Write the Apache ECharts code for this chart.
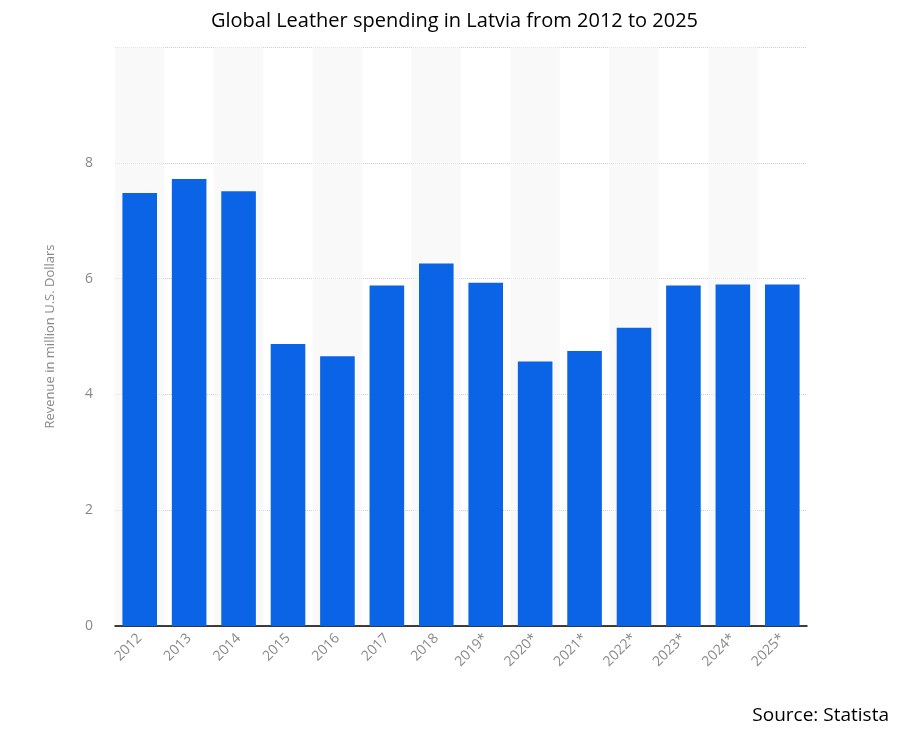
<!DOCTYPE html>
<html><head><meta charset="utf-8">
<script src="https://cdn.jsdelivr.net/npm/echarts@6/dist/echarts.min.js"></script>
<style>html,body{margin:0;padding:0;background:#fff}#c{width:909px;height:739px}</style>
</head><body><div id="c"></div>
<script>
const categories = ['2012','2013','2014','2015','2016','2017','2018','2019*','2020*','2021*','2022*','2023*','2024*','2025*'];
const revenue = [7.48,7.72,7.51,4.87,4.66,5.88,6.26,5.93,4.57,4.75,5.15,5.88,5.90,5.90];
const yTicks = [0,2,4,6,8,10];
const chart = echarts.init(document.getElementById('c'));
chart.setOption({
  animation:false,
  title:{text:'Global Leather spending in Latvia from 2012 to 2025',left:'center',top:6,
    textStyle:{fontFamily:'Open Sans',fontWeight:'normal',fontSize:20,color:'#000'}},
  graphic:[{type:'text',right:20,bottom:14,style:{text:'Source: Statista',fontFamily:'Open Sans',fontSize:19,fill:'#000'}}],
  grid:{left:115,right:102,top:47,bottom:113},
  xAxis:{type:'category',data:categories,
    axisLine:{lineStyle:{color:'#000',width:1.5}},axisTick:{show:false},
    splitArea:{show:true,areaStyle:{color:['rgba(245,245,245,0.6)','rgba(255,255,255,0)']}},
    axisLabel:{rotate:45,color:'#888',fontSize:14,fontFamily:'Open Sans',margin:10}},
  yAxis:{type:'value',min:0,max:10,interval:2,
    name:'Revenue in million U.S. Dollars',nameLocation:'middle',nameGap:58,
    nameTextStyle:{color:'#888',fontSize:13,fontFamily:'Open Sans'},
    axisLabel:{color:'#888',fontSize:14,fontFamily:'Open Sans',margin:22,
      formatter:v=>yTicks.includes(v)&&v<10?String(v):''},
    splitLine:{lineStyle:{color:'#ccc',type:'dotted'}}},
  series:[{type:'bar',data:revenue,barWidth:'70%',itemStyle:{color:'#0b63e5'}}]
});
</script></body></html>
